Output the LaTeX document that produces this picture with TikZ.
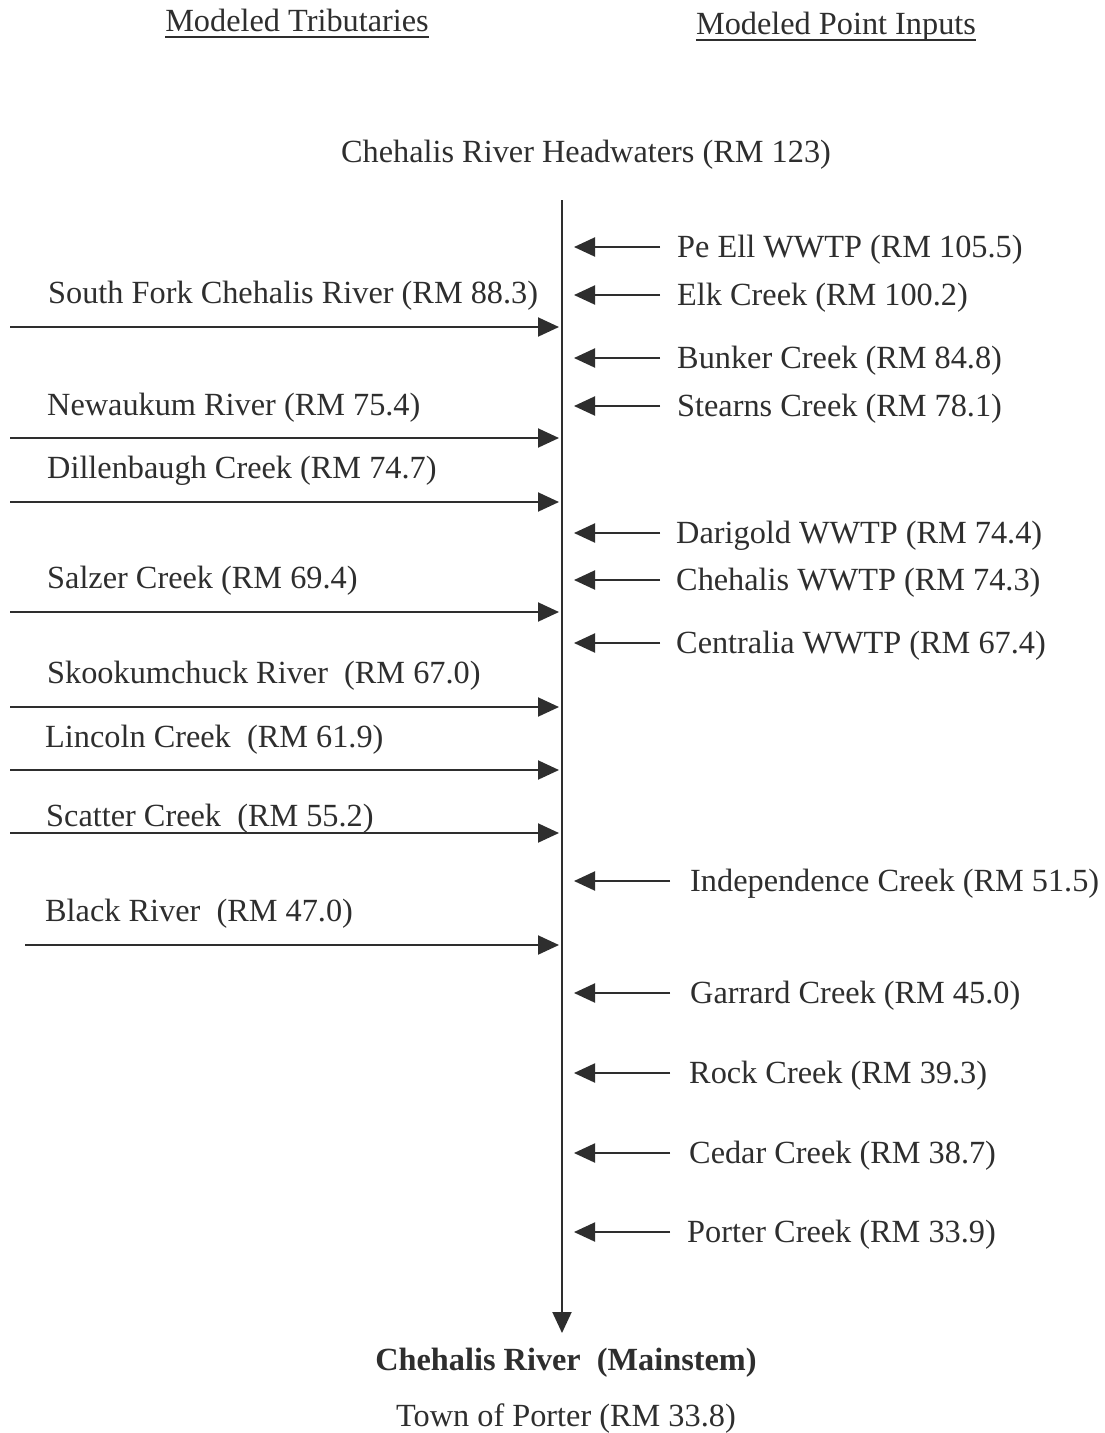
\documentclass[tikz,border=0pt]{standalone}
\usepackage{fontspec}
\setmainfont{Liberation Serif}
\usetikzlibrary{arrows.meta}
\definecolor{ink}{HTML}{2E2E2E}
\begin{document}
\begin{tikzpicture}[x=1pt,y=-1pt,
 lbl/.style={inner sep=0pt, anchor=base west, text=ink, font=\fontsize{32.3}{38}\selectfont},
 ctr/.style={inner sep=0pt, anchor=base, text=ink, font=\fontsize{32.3}{38}\selectfont},
 arr/.style={draw=ink, line width=2pt, -{Triangle[length=21pt,width=19pt]}},
 uline/.style={draw=ink, line width=1.8pt},
]
\useasboundingbox (0,0) rectangle (1104,1433);
\fill[white] (0,0) rectangle (1104,1433);

% headers
\node[ctr] (h1) at (297,31) {Modeled Tributaries};
\node[ctr] (h2) at (836,34) {Modeled Point Inputs};
\draw[uline] ([yshift=-6pt]h1.base west) -- ([yshift=-6pt]h1.base east);
\draw[uline] ([yshift=-6pt]h2.base west) -- ([yshift=-6pt]h2.base east);

% headwaters and mainstem
\node[ctr] (head) at (586,162) {Chehalis River Headwaters (RM 123)};
\coordinate (top) at (562,200);
\coordinate (bot) at (562,1333);
\draw[arr] (top) -- (bot);
\node[ctr, font=\fontsize{32.3}{38}\selectfont\bfseries] (main) at (566,1370) {Chehalis River\ \ (Mainstem)};
\node[ctr] (town) at (566,1426) {Town of Porter (RM 33.8)};

% tributaries (left)
\node[lbl] (t1) at (48,303) {South Fork Chehalis River (RM 88.3)};
\node[lbl] (t2) at (47,415) {Newaukum River (RM 75.4)};
\node[lbl] (t3) at (47,478) {Dillenbaugh Creek (RM 74.7)};
\node[lbl] (t4) at (47,588) {Salzer Creek (RM 69.4)};
\node[lbl] (t5) at (47,683) {Skookumchuck River\ \ (RM 67.0)};
\node[lbl] (t6) at (45,747) {Lincoln Creek\ \ (RM 61.9)};
\node[lbl] (t7) at (46,826) {Scatter Creek\ \ (RM 55.2)};
\node[lbl] (t8) at (45,921) {Black River\ \ (RM 47.0)};

\coordinate (a1) at (10,327);
\coordinate (a2) at (10,438);
\coordinate (a3) at (10,502);
\coordinate (a4) at (10,612);
\coordinate (a5) at (10,707);
\coordinate (a6) at (10,770);
\coordinate (a7) at (10,833);
\coordinate (a8) at (25,945);
\foreach \a in {a1,a2,a3,a4,a5,a6,a7,a8}
  \draw[arr, shorten >=3pt] (\a) -- (\a -| top);

% point inputs (right)
\foreach \n/\y/\tx/\tl/\txt in {
  p1/247/660/677/{Pe Ell WWTP (RM 105.5)},
  p2/295/660/677/{Elk Creek (RM 100.2)},
  p3/358/660/677/{Bunker Creek (RM 84.8)},
  p4/406/660/677/{Stearns Creek (RM 78.1)},
  p5/533/660/676/{Darigold WWTP (RM 74.4)},
  p6/580/660/676/{Chehalis WWTP (RM 74.3)},
  p7/643/660/676/{Centralia WWTP (RM 67.4)},
  p8/881/670/690/{Independence Creek (RM 51.5)},
  p9/993/670/690/{Garrard Creek (RM 45.0)},
  p10/1073/670/689/{Rock Creek (RM 39.3)},
  p11/1153/670/689/{Cedar Creek (RM 38.7)},
  p12/1232/670/687/{Porter Creek (RM 33.9)}}
{
  \node[lbl] (\n) at (\tl,\y+10) {\txt};
  \coordinate (\n s) at (\tx,\y);
  \draw[arr, shorten >=12pt] (\n s) -- (\n s -| top);
}
\end{tikzpicture}
\end{document}
